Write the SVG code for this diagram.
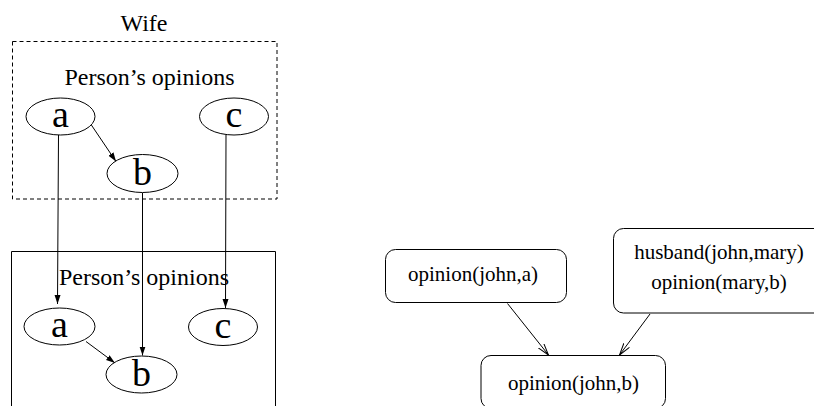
<svg xmlns="http://www.w3.org/2000/svg" width="814" height="406" viewBox="0 0 814 406">
  <style>
    .frame { fill: none; stroke: #000; stroke-width: 1; }
    .dashed { stroke-dasharray: 4 3; }
    .node { fill: #fff; stroke: #000; stroke-width: 1; }
    .box { fill: #fff; stroke: #000; stroke-width: 1; }
    .edge { fill: none; stroke: #000; stroke-width: 1; }
    .title { font-size: 24px; }
    .letter { font-size: 38px; }
    .fact { font-size: 21px; }
  </style>
  <defs>
    <marker id="solidHead" markerUnits="userSpaceOnUse" markerWidth="10" markerHeight="7" refX="9" refY="3" orient="auto">
      <path d="M0,0 L9,3 L0,6 z" fill="#000"/>
    </marker>
    <marker id="openHead" markerUnits="userSpaceOnUse" markerWidth="14" markerHeight="9" refX="12" refY="4" orient="auto">
      <path d="M0,0.5 L12,4 L0,7.5" fill="none" stroke="#000" stroke-width="1"/>
    </marker>
  </defs>

  <rect width="814" height="406" fill="#fff"/>

  <g font-family="Liberation Serif, DejaVu Serif, Times New Roman, Times, serif" text-anchor="middle" fill="#000">
  <!-- Wife's view (dashed frame) -->
  <g id="wife-frame">
    <text class="title" x="144" y="31">Wife</text>
    <rect class="frame dashed" x="12.5" y="41.5" width="264.5" height="157.5"/>
    <text class="title" x="149.5" y="85">Person’s opinions</text>
  </g>

  <!-- Person's frame (solid, runs off the bottom) -->
  <g id="person-frame">
    <path class="frame" d="M11.5,420 V251.5 H275.5 V420"/>
    <text class="title" x="144" y="285" font-size="23.5">Person’s opinions</text>
  </g>

  <!-- connectors -->
  <g id="connectors">
    <line class="edge" x1="58.5" y1="135" x2="57.5" y2="304" marker-end="url(#solidHead)"/>
    <line class="edge" x1="142.5" y1="193" x2="142.5" y2="355.5" marker-end="url(#solidHead)"/>
    <line class="edge" x1="226" y1="135" x2="225.5" y2="308" marker-end="url(#solidHead)"/>
    <line class="edge" x1="89" y1="121.5" x2="116" y2="161.5" marker-end="url(#solidHead)"/>
    <line class="edge" x1="86" y1="341.5" x2="115" y2="363" marker-end="url(#solidHead)"/>
    <line class="edge" x1="507.5" y1="303.5" x2="548.5" y2="355" marker-end="url(#openHead)"/>
    <line class="edge" x1="650" y1="314" x2="619.5" y2="355" marker-end="url(#openHead)"/>
  </g>

  <!-- upper opinions -->
  <g id="wife-a">
    <ellipse class="node" cx="60.5" cy="116.5" rx="34.5" ry="18.5"/>
    <text class="letter" x="60.5" y="127">a</text>
  </g>
  <g id="wife-b">
    <ellipse class="node" cx="142.5" cy="173.5" rx="35.5" ry="19"/>
    <text class="letter" x="142.5" y="184.5">b</text>
  </g>
  <g id="wife-c">
    <ellipse class="node" cx="234" cy="116.5" rx="34.5" ry="18.5"/>
    <text class="letter" x="234" y="127">c</text>
  </g>

  <!-- lower opinions -->
  <g id="person-a">
    <ellipse class="node" cx="59.5" cy="326.5" rx="35.5" ry="18.5"/>
    <text class="letter" x="59.5" y="337">a</text>
  </g>
  <g id="person-b">
    <ellipse class="node" cx="141.5" cy="374.5" rx="35.5" ry="18.5"/>
    <text class="letter" x="141.5" y="385.5">b</text>
  </g>
  <g id="person-c">
    <ellipse class="node" cx="223" cy="327" rx="34.5" ry="18.5"/>
    <text class="letter" x="223" y="337.5">c</text>
  </g>

  <!-- inference facts -->
  <g id="fact-john-a">
    <rect class="box" x="385.5" y="249.5" width="181" height="53" rx="10"/>
    <text class="fact" x="473" y="281">opinion(john,a)</text>
  </g>
  <g id="fact-husband">
    <rect class="box" x="613.5" y="228.5" width="220" height="84.5" rx="10"/>
    <text class="fact" x="719" y="259">husband(john,mary)</text>
    <text class="fact" x="719" y="289">opinion(mary,b)</text>
  </g>
  <g id="fact-john-b">
    <rect class="box" x="481" y="355.5" width="184.5" height="53" rx="10"/>
    <text class="fact" x="573.5" y="390">opinion(john,b)</text>
  </g>
  </g>
</svg>
